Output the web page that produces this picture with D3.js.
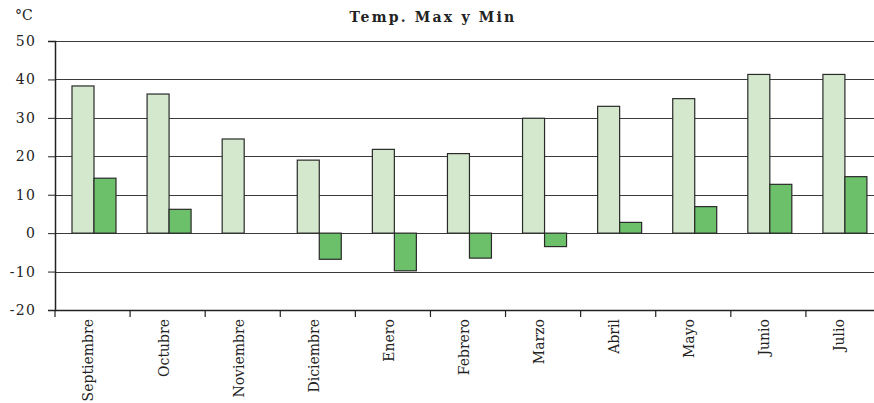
<!DOCTYPE html>
<html>
<head>
<meta charset="utf-8">
<script src="https://cdn.jsdelivr.net/npm/d3@7"></script>
<style>
  body { margin: 0; background: #fff; }
  svg text { font-family: "DejaVu Serif", serif; fill: #222; }
</style>
</head>
<body>
<svg id="chart"></svg>
<script>
var width = 874;
var height = 403;

var months = ["Septiembre", "Octubre", "Noviembre", "Diciembre", "Enero", "Febrero",
              "Marzo", "Abril", "Mayo", "Junio", "Julio"];
var tempMax = [38.3, 36.2, 24.5, 19.0, 21.8, 20.7, 29.9, 33.0, 35.0, 41.3, 41.3];
var tempMin = [14.3, 6.2, 0, -6.8, -9.8, -6.5, -3.5, 2.8, 6.9, 12.7, 14.7];
var series = ["Max", "Min"];
var yTicks = [50, 40, 30, 20, 10, 0, -10, -20];

var colors = { Max: "#d3e8cc", Min: "#6cc06a" };

var plotLeft = 55, plotRight = 881, plotTop = 41, plotBottom = 310;

var svg = d3.select("#chart")
    .attr("width", width)
    .attr("height", height);

var xScale = d3.scaleBand()
    .domain(months)
    .range([plotLeft, plotRight])
    .paddingInner(0)
    .paddingOuter(0);

var xInner = d3.scaleBand()
    .domain(series)
    .range([17, 61])
    .padding(0);

var yScale = d3.scaleLinear()
    .domain([-20, 50])
    .range([plotBottom, plotTop]);

// gridlines
svg.append("g")
  .selectAll("line")
  .data(yTicks)
  .enter()
  .append("line")
  .attr("x1", plotLeft)
  .attr("x2", width)
  .attr("y1", function(d) { return Math.round(yScale(d)) + 0.5; })
  .attr("y2", function(d) { return Math.round(yScale(d)) + 0.5; })
  .attr("stroke", "#3a3a3a")
  .attr("stroke-width", 1);

// bars
var rows = months.map(function(m, i) {
  return { month: m, values: [{ key: "Max", v: tempMax[i] }, { key: "Min", v: tempMin[i] }] };
});

var groups = svg.append("g")
  .selectAll("g")
  .data(rows)
  .enter()
  .append("g")
  .attr("transform", function(d) { return "translate(" + xScale(d.month) + ",0)"; });

groups.selectAll("rect")
  .data(function(d) { return d.values.filter(function(e) { return e.v !== 0; }); })
  .enter()
  .append("rect")
  .attr("x", function(d) { return xInner(d.key); })
  .attr("width", xInner.bandwidth())
  .attr("y", function(d) { return yScale(Math.max(0, d.v)); })
  .attr("height", function(d) { return Math.abs(yScale(d.v) - yScale(0)); })
  .attr("fill", function(d) { return colors[d.key]; })
  .attr("stroke", "#2a2a2a")
  .attr("stroke-width", 1.2);

// y axis
var yAxis = d3.axisLeft(yScale)
  .tickValues(yTicks)
  .tickSize(7)
  .tickFormat(function(d) { return String(d); });

var yG = svg.append("g")
  .attr("transform", "translate(" + plotLeft + ",0)")
  .call(yAxis);
yG.select(".domain").attr("stroke", "#222").attr("stroke-width", 1.5);
yG.selectAll(".tick line").attr("stroke", "#222");
yG.selectAll(".tick text")
  .attr("x", -19)
  .style("font-size", "14px")
  .style("letter-spacing", "1.2px")
  .attr("fill", "#222");

// x axis
var xAxis = d3.axisBottom(xScale)
  .tickSize(0)
  .tickSizeOuter(0);

var xG = svg.append("g")
  .attr("transform", "translate(0," + plotBottom + ")")
  .call(xAxis);
xG.select(".domain").attr("stroke", "#222").attr("stroke-width", 1.5);
xG.selectAll(".tick text")
  .attr("transform", "translate(-4,0) rotate(-90)")
  .attr("x", -9)
  .attr("y", 0)
  .attr("dy", "0.35em")
  .style("text-anchor", "end")
  .style("font-size", "14px")
  .attr("fill", "#222");

// boundary ticks between categories
svg.append("g")
  .selectAll("line")
  .data(months)
  .enter()
  .append("line")
  .attr("x1", function(d) { return xScale(d); })
  .attr("x2", function(d) { return xScale(d); })
  .attr("y1", plotBottom)
  .attr("y2", plotBottom + 7)
  .attr("stroke", "#222")
  .attr("stroke-width", 1.2);

// title and unit
svg.append("text")
  .attr("x", 433)
  .attr("y", 22)
  .attr("text-anchor", "middle")
  .style("font-size", "14px")
  .style("font-weight", "bold")
  .style("letter-spacing", "2.2px")
  .text("Temp. Max y Min");

svg.append("text")
  .attr("x", 15)
  .attr("y", 20)
  .style("font-size", "14px")
  .text("°C");
</script>
</body>
</html>
